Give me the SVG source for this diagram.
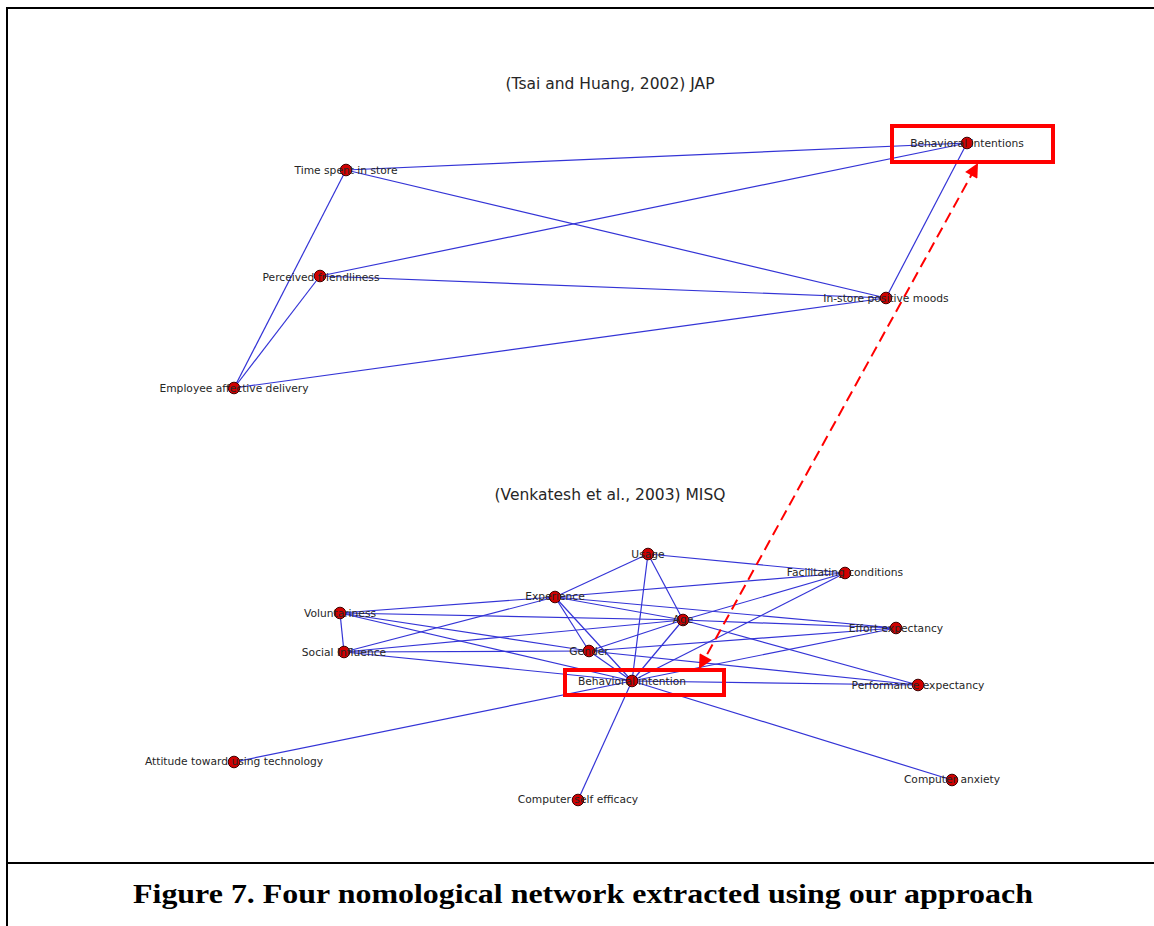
<svg xmlns="http://www.w3.org/2000/svg" width="1154" height="926" viewBox="0 0 1154 926">
<defs>
<style>
.e{stroke:#3434d6;stroke-width:1.2;fill:none}
.n{fill:#d00000;stroke:#400000;stroke-width:1}
.l{font-family:"DejaVu Sans",sans-serif;font-size:10.7px;fill:#262626;text-anchor:middle;dominant-baseline:central}
.t{font-family:"DejaVu Sans",sans-serif;font-size:15.5px;fill:#262626;text-anchor:middle}
.hl{fill:none;stroke:#ff0000;stroke-width:4}
.frame{stroke:#000;stroke-width:2;fill:none}
</style>
<marker id="ah" viewBox="0 0 10 10" refX="10" refY="5" markerWidth="8" markerHeight="7" markerUnits="strokeWidth" orient="auto-start-reverse">
<path d="M0,0 L10,5 L0,10 Z" fill="#ff0000"/>
</marker>
</defs>
<rect width="1154" height="926" fill="#fff"/>
<g id="frame">
<path class="frame" d="M7,926 V8 H1154 M7,863 H1154"/>
</g>
<g id="titles">
<text class="t" x="610" y="89">(Tsai and Huang, 2002) JAP</text>
<text class="t" x="610" y="500">(Venkatesh et al., 2003) MISQ</text>
</g>
<g id="connectors">
<line class="e" x1="346" y1="170" x2="967" y2="143"/>
<line class="e" x1="346" y1="170" x2="886" y2="298"/>
<line class="e" x1="346" y1="170" x2="234" y2="388"/>
<line class="e" x1="320" y1="276" x2="967" y2="143"/>
<line class="e" x1="320" y1="276" x2="886" y2="298"/>
<line class="e" x1="320" y1="276" x2="234" y2="388"/>
<line class="e" x1="234" y1="388" x2="886" y2="298"/>
<line class="e" x1="886" y1="298" x2="967" y2="143"/>

<line class="e" x1="648" y1="554" x2="845" y2="573"/>
<line class="e" x1="648" y1="554" x2="555" y2="597"/>
<line class="e" x1="648" y1="554" x2="683" y2="620"/>
<line class="e" x1="648" y1="554" x2="632" y2="681"/>
<line class="e" x1="845" y1="573" x2="555" y2="597"/>
<line class="e" x1="845" y1="573" x2="683" y2="620"/>
<line class="e" x1="845" y1="573" x2="632" y2="681"/>
<line class="e" x1="555" y1="597" x2="340" y2="613"/>
<line class="e" x1="555" y1="597" x2="344" y2="652"/>
<line class="e" x1="555" y1="597" x2="589" y2="651"/>
<line class="e" x1="555" y1="597" x2="632" y2="681"/>
<line class="e" x1="555" y1="597" x2="683" y2="620"/>
<line class="e" x1="555" y1="597" x2="896" y2="628"/>
<line class="e" x1="340" y1="613" x2="344" y2="652"/>
<line class="e" x1="340" y1="613" x2="683" y2="620"/>
<line class="e" x1="340" y1="613" x2="589" y2="651"/>
<line class="e" x1="340" y1="613" x2="632" y2="681"/>
<line class="e" x1="344" y1="652" x2="683" y2="620"/>
<line class="e" x1="344" y1="652" x2="589" y2="651"/>
<line class="e" x1="344" y1="652" x2="632" y2="681"/>
<line class="e" x1="683" y1="620" x2="589" y2="651"/>
<line class="e" x1="683" y1="620" x2="632" y2="681"/>
<line class="e" x1="683" y1="620" x2="896" y2="628"/>
<line class="e" x1="683" y1="620" x2="918" y2="685"/>
<line class="e" x1="589" y1="651" x2="896" y2="628"/>
<line class="e" x1="589" y1="651" x2="632" y2="681"/>
<line class="e" x1="589" y1="651" x2="918" y2="685"/>
<line class="e" x1="632" y1="681" x2="896" y2="628"/>
<line class="e" x1="632" y1="681" x2="918" y2="685"/>
<line class="e" x1="632" y1="681" x2="234" y2="762"/>
<line class="e" x1="632" y1="681" x2="578" y2="800"/>
<line class="e" x1="632" y1="681" x2="952" y2="780"/>
</g>
<g id="n-time"><circle class="n" cx="346" cy="170" r="5.8"/><text class="l" x="346" y="170">Time spent in store</text></g>
<g id="n-friendliness"><circle class="n" cx="320" cy="276" r="5.8"/><text class="l" x="321" y="277">Perceived friendliness</text></g>
<g id="n-employee"><circle class="n" cx="234" cy="388" r="5.8"/><text class="l" x="234" y="388">Employee affective delivery</text></g>
<g id="n-bis"><circle class="n" cx="967" cy="143" r="5.8"/><text class="l" x="967" y="143">Behavioral intentions</text></g>
<g id="n-moods"><circle class="n" cx="886" cy="298" r="5.8"/><text class="l" x="886" y="298">In-store positive moods</text></g>

<g id="n-usage"><circle class="n" cx="648" cy="554" r="5.8"/><text class="l" x="648" y="554">Usage</text></g>
<g id="n-fc"><circle class="n" cx="845" cy="573" r="5.8"/><text class="l" x="845" y="572">Facilitating conditions</text></g>
<g id="n-exp"><circle class="n" cx="555" cy="597" r="5.8"/><text class="l" x="555" y="596">Experience</text></g>
<g id="n-vol"><circle class="n" cx="340" cy="613" r="5.8"/><text class="l" x="340" y="613">Voluntariness</text></g>
<g id="n-age"><circle class="n" cx="683" cy="620" r="5.8"/><text class="l" x="683" y="619">Age</text></g>
<g id="n-ee"><circle class="n" cx="896" cy="628" r="5.8"/><text class="l" x="896" y="628">Effort expectancy</text></g>
<g id="n-si"><circle class="n" cx="344" cy="652" r="5.8"/><text class="l" x="344" y="652">Social Influence</text></g>
<g id="n-gender"><circle class="n" cx="589" cy="651" r="5.8"/><text class="l" x="589" y="651">Gender</text></g>
<g id="n-bi"><circle class="n" cx="632" cy="681" r="5.8"/><text class="l" x="632" y="681">Behavioral intention</text></g>
<g id="n-pe"><circle class="n" cx="918" cy="685" r="5.8"/><text class="l" x="918" y="685">Performance expectancy</text></g>
<g id="n-att"><circle class="n" cx="234" cy="762" r="5.8"/><text class="l" x="234" y="761">Attitude toward using technology</text></g>
<g id="n-cse"><circle class="n" cx="578" cy="800" r="5.8"/><text class="l" x="578" y="799">Computer self efficacy</text></g>
<g id="n-ca"><circle class="n" cx="952" cy="780" r="5.8"/><text class="l" x="952" y="779">Computer anxiety</text></g>

<g id="highlights">
<rect class="hl" x="892" y="126" width="161" height="36"/>
<rect class="hl" x="565" y="670" width="159" height="25"/>
<line x1="699" y1="669" x2="978" y2="163" stroke="#ff0000" stroke-width="2" stroke-dasharray="11,6" marker-start="url(#ah)" marker-end="url(#ah)"/>
</g>
<g id="caption">
<text x="583" y="903" font-family="'Liberation Serif',Georgia,serif" font-weight="bold" font-size="28" fill="#000" text-anchor="middle" textLength="900" lengthAdjust="spacingAndGlyphs">Figure 7. Four nomological network extracted using our approach</text>
</g>
</svg>
